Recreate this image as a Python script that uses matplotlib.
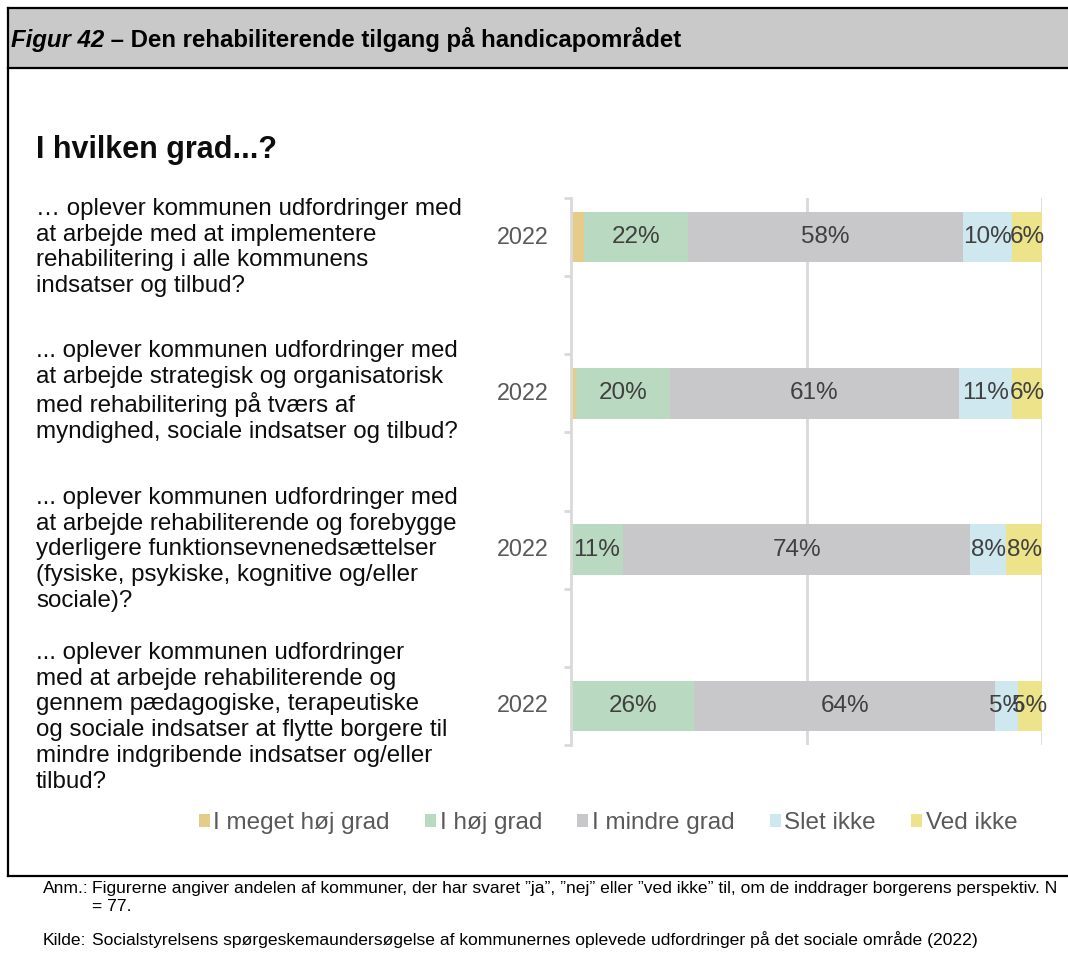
import matplotlib.pyplot as plt
from matplotlib.patches import Patch, Rectangle
from matplotlib.lines import Line2D

plt.rcParams['font.family'] = ['Liberation Sans', 'DejaVu Sans']

# Survey answers (percent of municipalities), one entry per question
questions = [
    "… oplever kommunen udfordringer med\nat arbejde med at implementere\nrehabilitering i alle kommunens\nindsatser og tilbud?",
    "... oplever kommunen udfordringer med\nat arbejde strategisk og organisatorisk\nmed rehabilitering på tværs af\nmyndighed, sociale indsatser og tilbud?",
    "... oplever kommunen udfordringer med\nat arbejde rehabiliterende og forebygge\nyderligere funktionsevnenedsættelser\n(fysiske, psykiske, kognitive og/eller\nsociale)?",
    "... oplever kommunen udfordringer\nmed at arbejde rehabiliterende og\ngennem pædagogiske, terapeutiske\nog sociale indsatser at flytte borgere til\nmindre indgribende indsatser og/eller\ntilbud?",
]
years = ["2022", "2022", "2022", "2022"]

meget_hoej = [2.7, 1.1, 0.0, 0.0]
hoej = [22.1, 19.9, 11.0, 26.2]
mindre = [58.4, 61.3, 73.8, 63.8]
slet_ikke = [10.4, 11.4, 7.6, 4.8]
ved_ikke = [6.4, 6.3, 7.6, 5.2]

series_names = ["I meget høj grad", "I høj grad", "I mindre grad", "Slet ikke", "Ved ikke"]
series_values = [meget_hoej, hoej, mindre, slet_ikke, ved_ikke]
colors = ["#E6CC8A", "#B9DAC0", "#C8C8CA", "#CFE8EF", "#ECE38A"]
show_labels = [False, True, True, True, True]

W, H = 1068, 955
fig = plt.figure(figsize=(W / 100, H / 100), dpi=100)


def px(x, y):
    return x / W, 1 - y / H


# frame, grey header band and footer rule
fig.patches.append(Rectangle(px(8, 68), 1.0, 60 / H, transform=fig.transFigure,
                             facecolor="#C9C9C9", edgecolor="none", zorder=0))
for xs, ys in [((8, 1068), (8, 8)), ((8, 1068), (68, 68)), ((8, 8), (8, 876)),
               ((8, 1068), (876, 876))]:
    fig.add_artist(Line2D([x / W for x in xs], [1 - y / H for y in ys],
                          transform=fig.transFigure, color="black", lw=1.6))

fig_lbl = fig.text(*px(11, 40), "Figur 42", fontsize=17.3, fontweight="bold",
                   fontstyle="italic", va="center", ha="left")
fig.canvas.draw()
x_end = fig_lbl.get_window_extent().x1
fig.text(x_end / W, 1 - 40 / H, " – Den rehabiliterende tilgang på handicapområdet",
         fontsize=17.3, fontweight="bold", va="center", ha="left")

fig.text(*px(36, 150), "I hvilken grad...?", fontsize=22, fontweight="bold",
         va="center", ha="left", color="#0D0D0D")

# stacked horizontal bars, blank slot between each question
ax = fig.add_axes([571 / W, 1 - 745 / H, 471 / W, 547 / H])
ypos = [0.5, 2.5, 4.5, 6.5]
left = [0.0] * len(ypos)
for name, vals, col, lab in zip(series_names, series_values, colors, show_labels):
    ax.barh(ypos, vals, left=left, height=0.65, color=col, label=name, zorder=2)
    if lab:
        for y, l, v in zip(ypos, left, vals):
            if v > 0:
                ax.text(l + v / 2, y, f"{v:.0f}%", ha="center", va="center",
                        fontsize=17.5, color="#404040", zorder=3)
    left = [a + b for a, b in zip(left, vals)]

ax.set_xlim(0, 100)
ax.set_ylim(7, 0)
ax.set_xticks([50, 100])
ax.xaxis.grid(True, color="#D9D9D9", lw=2, zorder=0)
ax.tick_params(axis="x", length=0, labelbottom=False)
ax.set_yticks(range(8))
ax.set_yticklabels([])
ax.tick_params(axis="y", length=5, width=2, color="#D9D9D9", direction="out")
for s in ["top", "right", "bottom"]:
    ax.spines[s].set_visible(False)
ax.spines["left"].set_color("#D9D9D9")
ax.spines["left"].set_linewidth(2)

for y, yr in zip(ypos, years):
    ax.text(-0.047, y, yr, transform=ax.get_yaxis_transform(), ha="right", va="center",
            fontsize=16.8, color="#595959")

tops = [198, 340, 487, 642]
for q, t in zip(questions, tops):
    fig.text(*px(36, t), q, fontsize=17.4, va="top", ha="left", color="#0D0D0D",
             linespacing=1.22)

handles = [Patch(facecolor=c, edgecolor="none") for c in colors]
fig.legend(handles, series_names, loc="center", bbox_to_anchor=(608 / W, 1 - 823 / H),
           ncol=5, frameon=False, fontsize=17.5, labelcolor="#595959",
           handlelength=0.45, handleheight=0.45, handletextpad=0.15, columnspacing=1.45)

fs = 12.6
fig.text(*px(43, 888), "Anm.:", fontsize=fs, va="center", ha="left")
fig.text(*px(92, 888), "Figurerne angiver andelen af kommuner, der har svaret ”ja”, ”nej” eller ”ved ikke” til, om de inddrager borgerens perspektiv. N",
         fontsize=fs, va="center", ha="left")
fig.text(*px(92, 906), "= 77.", fontsize=fs, va="center", ha="left")
fig.text(*px(43, 940), "Kilde:", fontsize=fs, va="center", ha="left")
fig.text(*px(92, 940), "Socialstyrelsens spørgeskemaundersøgelse af kommunernes oplevede udfordringer på det sociale område (2022)",
         fontsize=fs, va="center", ha="left")

fig.savefig("out.png", dpi=100)
